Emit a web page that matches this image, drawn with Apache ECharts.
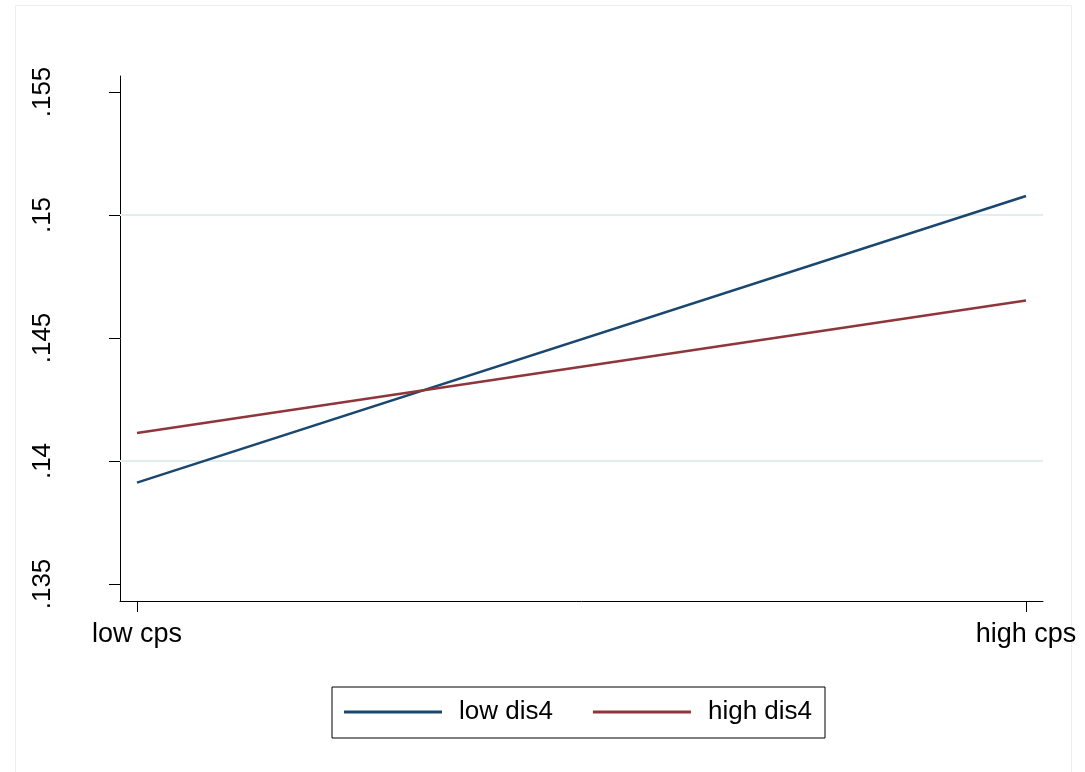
<!DOCTYPE html>
<html>
<head>
<meta charset="utf-8">
<script src="https://cdn.jsdelivr.net/npm/echarts@6/dist/echarts.min.js"></script>
<style>html,body{margin:0;padding:0;background:#fff}#c{width:1085px;height:772px}</style>
</head>
<body>
<div id="c"></div>
<script>
const categories = ['low cps', 'high cps'];
const seriesNames = ['low dis4', 'high dis4'];
const lowDis4 = [0.13912, 0.15077];
const highDis4 = [0.14114, 0.14652];
const yTickValues = [0.135, 0.14, 0.145, 0.15, 0.155];
const yTickLabels = ['.135', '.14', '.145', '.15', '.155'];
const gridValues = [0.14, 0.145, 0.15];

const FONT = 'Liberation Sans, Arial, sans-serif';
const toPts = arr => arr.map((v, i) => [i, v]);
function yLabel(v) {
  for (let i = 0; i < yTickValues.length; i++) if (Math.abs(v - yTickValues[i]) < 1e-7) return yTickLabels[i];
  return '';
}
function xLabel(v) {
  const i = Math.round(v);
  return Math.abs(v - i) < 1e-6 && categories[i] !== undefined ? categories[i] : '';
}

const chart = echarts.init(document.getElementById('c'), null, {renderer: 'canvas'});
chart.setOption({
  animation: false,
  backgroundColor: '#fff',
  graphic: [{
    type: 'rect', silent: true, z: -10,
    shape: {x: 15.5, y: 5.5, width: 1056, height: 800},
    style: {fill: null, stroke: '#eeeeee', lineWidth: 1}
  }],
  grid: {left: 120, right: 42, top: 76, bottom: 171, containLabel: false},
  xAxis: {
    type: 'value',
    min: -0.0191, max: 1.0191,
    axisLine: {show: true, onZero: false, lineStyle: {color: '#000', width: 1}},
    axisTick: {show: true, customValues: [0, 1], length: 11, lineStyle: {color: '#000', width: 1}},
    axisLabel: {show: true, customValues: [0, 1], formatter: xLabel, margin: 20,
      fontFamily: FONT, fontSize: 27, color: '#000'},
    splitLine: {show: false}
  },
  yAxis: {
    type: 'value',
    min: 0.134309, max: 0.15565,
    axisLine: {show: true, onZero: false, lineStyle: {color: '#000', width: 1}},
    axisTick: {show: true, customValues: yTickValues, length: 11, lineStyle: {color: '#000', width: 1}},
    axisLabel: {show: true, customValues: yTickValues, formatter: yLabel, rotate: 90, margin: 64,
      fontFamily: FONT, fontSize: 26, color: '#000'},
    splitLine: {show: false}
  },
  legend: {
    data: seriesNames,
    left: 332, top: 687,
    orient: 'horizontal',
    borderColor: '#000', borderWidth: 1,
    padding: [12, 13, 13, 12],
    itemGap: 40,
    itemWidth: 98, itemHeight: 3,
    icon: 'rect',
    textStyle: {fontFamily: FONT, fontSize: 26, color: '#000', padding: [0, 0, 0, 12]}
  },
  series: [
    {
      name: seriesNames[0], type: 'line', data: toPts(lowDis4), z: 3,
      showSymbol: false, symbol: 'none',
      lineStyle: {color: '#1a476f', width: 2.5}, itemStyle: {color: '#1a476f'},
      markLine: {
        silent: true, symbol: 'none', z: 1,
        label: {show: false},
        lineStyle: {color: '#e3eded', width: 2, type: 'solid'},
        data: gridValues.map(v => ({yAxis: v}))
      }
    },
    {
      name: seriesNames[1], type: 'line', data: toPts(highDis4), z: 3,
      showSymbol: false, symbol: 'none',
      lineStyle: {color: '#90353b', width: 2.5}, itemStyle: {color: '#90353b'}
    }
  ]
});
</script>
</body>
</html>
